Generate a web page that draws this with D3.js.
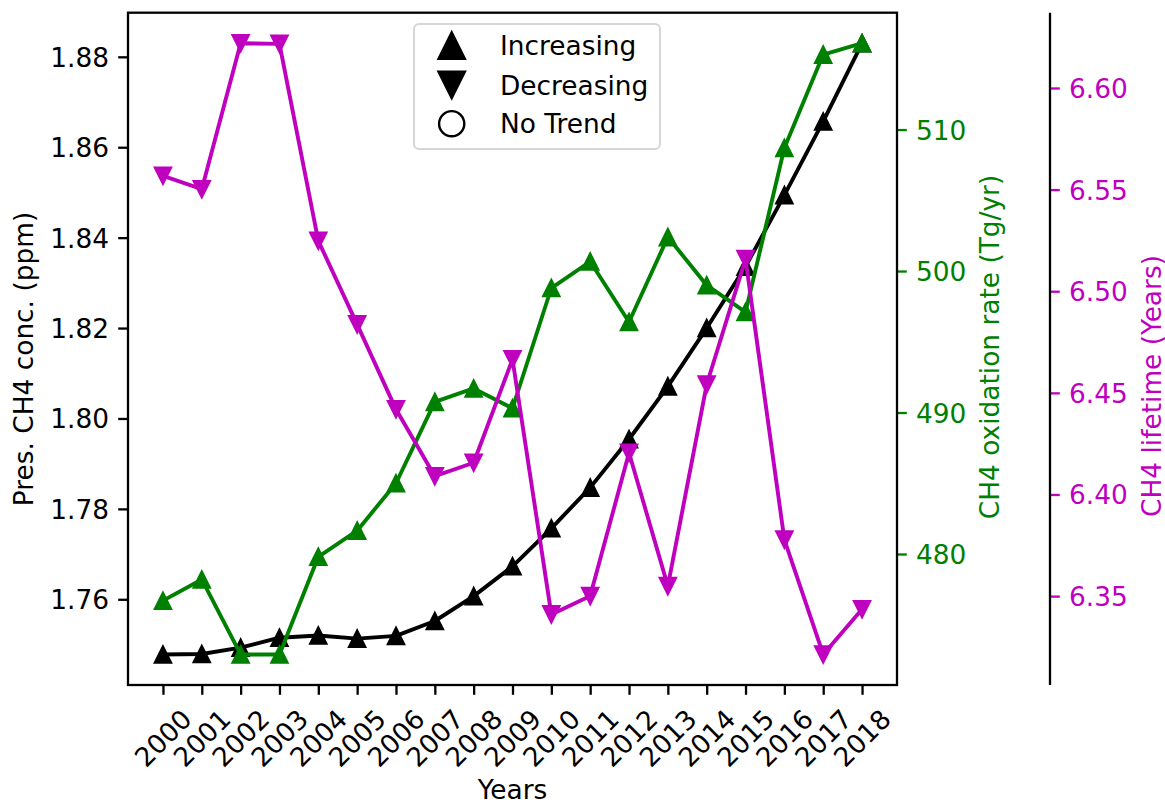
<!DOCTYPE html>
<html>
<head>
<meta charset="utf-8">
<script src="https://cdn.jsdelivr.net/npm/d3@7"></script>
<style>
  html, body { margin: 0; padding: 0; background: #fff; }
  svg { display: block; font-family: "DejaVu Sans", sans-serif; }
</style>
</head>
<body>
<svg id="chart" width="1165" height="804"></svg>
<script>
// ---------------- data ----------------
const years = [2000, 2001, 2002, 2003, 2004, 2005, 2006, 2007, 2008, 2009,
               2010, 2011, 2012, 2013, 2014, 2015, 2016, 2017, 2018];
const ch4Conc = [1.7478, 1.7479, 1.7493, 1.7515, 1.7520, 1.7513, 1.7519, 1.7552, 1.7607, 1.7673,
                 1.7757, 1.7847, 1.7954, 1.8071, 1.8200, 1.8336, 1.8494, 1.8657, 1.8830];
const oxidationRate = [476.7, 478.2, 472.9, 472.9, 479.8, 481.65, 485.0, 490.75, 491.7, 490.3,
                       498.8, 500.67, 496.4, 502.4, 499.0, 497.1, 508.7, 515.3, 516.1];
const lifetime = [6.5568, 6.5502, 6.6220, 6.6217, 6.5248, 6.4837, 6.4419, 6.4090, 6.4156, 6.4665,
                  6.3410, 6.3500, 6.4205, 6.3549, 6.4541, 6.5158, 6.3778, 6.3213, 6.3435];
const concTicks = [1.76, 1.78, 1.80, 1.82, 1.84, 1.86, 1.88];
const oxTicks = [480, 490, 500, 510];
const lifeTicks = [6.35, 6.40, 6.45, 6.50, 6.55, 6.60];
const legendLabels = ["Increasing", "Decreasing", "No Trend"];
const axisTitles = {
  x: "Years",
  conc: "Pres. CH4 conc. (ppm)",
  ox: "CH4 oxidation rate (Tg/yr)",
  life: "CH4 lifetime (Years)"
};

// ---------------- layout ----------------
const L = 128, R = 897, T = 12.7, B = 685;
const AX3 = 1050;
const FS = 26.4;
const GREEN = "#008000", MAG = "#bf00bf";

const svg = d3.select("#chart");

function padded(vals) {
  const [lo, hi] = d3.extent(vals);
  const m = (hi - lo) * 0.05;
  return [lo - m, hi + m];
}
const yrExt = d3.extent(years);
const yrPad = (yrExt[1] - yrExt[0]) * 0.05;
const x = d3.scaleLinear().domain([yrExt[0] - yrPad, yrExt[1] + yrPad]).range([L, R]);
const y1 = d3.scaleLinear().domain(padded(ch4Conc)).range([B, T]);
const y2 = d3.scaleLinear().domain(padded(oxidationRate)).range([B, T]);
const y3 = d3.scaleLinear().domain(padded(lifetime)).range([B, T]);

const TICKLEN = 9.8, TICKW = 2.3, PAD = 9.2;

// ----- x axis -----
const xAxis = d3.axisBottom(x).tickValues(years).tickSize(TICKLEN).tickFormat("");
const gx = svg.append("g").attr("transform", `translate(0,${B})`).call(xAxis);
gx.select(".domain").remove();
gx.selectAll(".tick line").attr("stroke", "#000").attr("stroke-width", TICKW);
svg.append("g").selectAll("text").data(years).join("text")
  .attr("transform", d => `translate(${x(d)},738) rotate(-45)`)
  .attr("text-anchor", "middle").attr("dominant-baseline", "central")
  .attr("font-size", FS).attr("fill", "#000").text(d => d);

// ----- left axis -----
const ax1 = d3.axisLeft(y1).tickValues(concTicks).tickSize(TICKLEN).tickPadding(PAD).tickFormat(d3.format(".2f"));
const g1 = svg.append("g").attr("transform", `translate(${L},0)`).call(ax1);
g1.select(".domain").remove();
g1.selectAll(".tick line").attr("stroke", "#000").attr("stroke-width", TICKW);
g1.selectAll(".tick text").attr("font-size", FS).attr("font-family", "DejaVu Sans").attr("fill", "#000").attr("dy", "0.36em");

// ----- right axis (green) -----
const ax2 = d3.axisRight(y2).tickValues(oxTicks).tickSize(TICKLEN).tickPadding(PAD).tickFormat(d3.format("d"));
const g2 = svg.append("g").attr("transform", `translate(${R},0)`).call(ax2);
g2.select(".domain").remove();
g2.selectAll(".tick line").attr("stroke", GREEN).attr("stroke-width", TICKW);
g2.selectAll(".tick text").attr("font-size", FS).attr("font-family", "DejaVu Sans").attr("fill", GREEN).attr("dy", "0.36em");

// ----- third axis (magenta) -----
const ax3 = d3.axisRight(y3).tickValues(lifeTicks).tickSize(TICKLEN).tickPadding(PAD).tickFormat(d3.format(".2f"));
const g3 = svg.append("g").attr("transform", `translate(${AX3},0)`).call(ax3);
g3.select(".domain").remove();
g3.selectAll(".tick line").attr("stroke", MAG).attr("stroke-width", TICKW);
g3.selectAll(".tick text").attr("font-size", FS).attr("font-family", "DejaVu Sans").attr("fill", MAG).attr("dy", "0.36em");
svg.append("line").attr("x1", AX3).attr("x2", AX3).attr("y1", T).attr("y2", B)
  .attr("stroke", "#000").attr("stroke-width", TICKW);

// ----- axis titles -----
svg.append("text").attr("x", (L + R) / 2).attr("y", 799).attr("text-anchor", "middle")
  .attr("font-size", FS).attr("fill", "#000").text(axisTitles.x);
svg.append("text").attr("transform", "translate(32.5,359) rotate(-90)").attr("text-anchor", "middle")
  .attr("font-size", FS).attr("fill", "#000").text(axisTitles.conc);
svg.append("text").attr("transform", "translate(998.5,347) rotate(-90)").attr("text-anchor", "middle")
  .attr("font-size", FS).attr("fill", GREEN).text(axisTitles.ox);
svg.append("text").attr("transform", "translate(1160.5,386) rotate(-90)").attr("text-anchor", "middle")
  .attr("font-size", FS).attr("fill", MAG).text(axisTitles.life);

// ----- legend (beneath twin-axis lines) -----
const leg = svg.append("g");
leg.append("rect").attr("x", 414).attr("y", 24).attr("width", 246).attr("height", 125)
  .attr("rx", 5).attr("fill", "#fff").attr("fill-opacity", 0.8)
  .attr("stroke", "#d6d6d6").attr("stroke-width", 2);
const legY = [45.5, 85, 123.7];
function triPath(h, up) {
  return up ? `M0,${-h}L${-h},${h}L${h},${h}Z` : `M0,${h}L${-h},${-h}L${h},${-h}Z`;
}
leg.append("path").attr("d", triPath(13.5, true)).attr("transform", `translate(451.7,${legY[0]})`)
  .attr("fill", "#000").attr("stroke", "#000").attr("stroke-width", 2);
leg.append("path").attr("d", triPath(13.5, false)).attr("transform", `translate(451.7,${legY[1]})`)
  .attr("fill", "#000").attr("stroke", "#000").attr("stroke-width", 2);
leg.append("circle").attr("cx", 451.7).attr("cy", legY[2]).attr("r", 12.6)
  .attr("fill", "#fff").attr("stroke", "#000").attr("stroke-width", 2.4);
leg.selectAll("text.lbl").data(legendLabels).join("text").attr("class", "lbl")
  .attr("x", 500).attr("y", (d, i) => legY[i]).attr("dy", "0.36em")
  .attr("font-size", FS).attr("fill", "#000").text(d => d);

// ----- series -----
const H = 8.3;
function drawSeries(vals, yScale, color, up) {
  const g = svg.append("g");
  const line = d3.line().x((d, i) => x(years[i])).y(d => yScale(d));
  g.append("path").attr("d", line(vals)).attr("fill", "none")
    .attr("stroke", color).attr("stroke-width", 3.9).attr("stroke-linejoin", "round").attr("stroke-linecap", "square");
  g.selectAll("path.m").data(vals).join("path").attr("class", "m")
    .attr("d", triPath(H, up))
    .attr("transform", (d, i) => `translate(${x(years[i])},${yScale(d)})`)
    .attr("fill", color).attr("stroke", color).attr("stroke-width", 2).attr("stroke-linejoin", "miter");
}
drawSeries(ch4Conc, y1, "#000", true);
drawSeries(oxidationRate, y2, GREEN, true);
drawSeries(lifetime, y3, MAG, false);

// ----- plot frame -----
svg.append("rect").attr("x", L).attr("y", T).attr("width", R - L).attr("height", B - T)
  .attr("fill", "none").attr("stroke", "#000").attr("stroke-width", TICKW);
</script>
</body>
</html>
